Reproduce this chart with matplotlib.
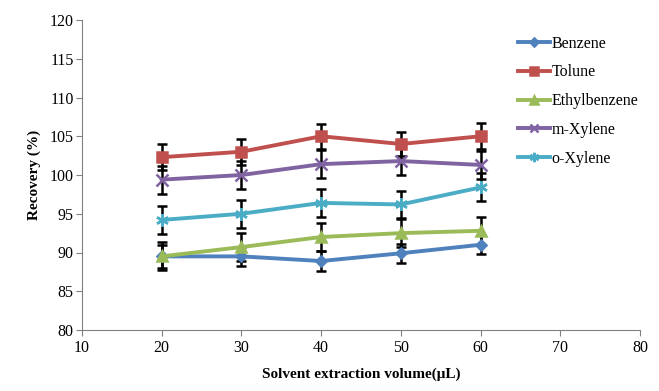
import matplotlib
matplotlib.use("Agg")
import matplotlib.pyplot as plt

x = [20, 30, 40, 50, 60]
benzene = [89.5, 89.5, 88.9, 89.9, 91.0]
tolune = [102.3, 103.0, 105.0, 104.0, 105.0]
ethylbenzene = [89.5, 90.7, 92.0, 92.5, 92.8]
m_xylene = [99.4, 100.0, 101.4, 101.8, 101.3]
o_xylene = [94.2, 95.0, 96.4, 96.2, 98.4]

err_benzene = [1.5, 1.2, 1.3, 1.2, 1.2]
err_tolune = [1.7, 1.7, 1.6, 1.6, 1.7]
err_ethyl = [1.8, 1.8, 1.8, 1.8, 1.8]
err_mx = [1.8, 1.8, 1.8, 1.8, 1.8]
err_ox = [1.8, 1.8, 1.8, 1.8, 1.8]

names = ["Benzene", "Tolune", "Ethylbenzene", "m-Xylene", "o-Xylene"]
series = [benzene, tolune, ethylbenzene, m_xylene, o_xylene]
errs = [err_benzene, err_tolune, err_ethyl, err_mx, err_ox]
colors = ["#4F81BD", "#C0504D", "#9BBB59", "#8064A2", "#4BACC6"]
markers = ["D", "s", "^", "x", (6, 2, 0)]
msizes = [5.5, 7.5, 7.5, 8, 9]

plt.rcParams['font.family'] = ['Liberation Serif', 'DejaVu Serif']

fig = plt.figure(figsize=(6.59, 3.91), dpi=100)
ax = fig.add_axes([82/659, 1-330/391, (640-82)/659, (330-20)/391])

for name, ys, e, c, m, ms in zip(names, series, errs, colors, markers, msizes):
    ax.errorbar(x, ys, yerr=e, fmt='none', ecolor='black', elinewidth=1.8,
                capsize=3.5, capthick=1.8, zorder=2)
    ax.plot(x, ys, color=c, marker=m, markersize=ms, linewidth=2.8,
            markeredgewidth=1.8, label=name, zorder=3)

ax.set_xlim(10, 80)
ax.set_ylim(80, 120)
ax.set_xticks(range(10, 81, 10))
ax.set_yticks(range(80, 121, 5))
ax.tick_params(axis='both', labelsize=11.5, direction='out', length=4, color='#808080')
ax.tick_params(axis='y', pad=2)
for s in ['top', 'right']:
    ax.spines[s].set_visible(False)
for s in ['left', 'bottom']:
    ax.spines[s].set_color('#808080')

ax.set_xlabel("Solvent extraction volume(μL)", fontsize=11, fontweight='bold', labelpad=8)
ax.set_ylabel("Recovery (%)", fontsize=11, fontweight='bold', labelpad=6)

ax.legend(loc='upper left', bbox_to_anchor=(0.77, 0.97), frameon=False,
          fontsize=11.5, handlelength=2.0, labelspacing=0.8, handletextpad=0.1,
          borderaxespad=0, markerscale=0.75)

fig.savefig("out.png", dpi=100)
